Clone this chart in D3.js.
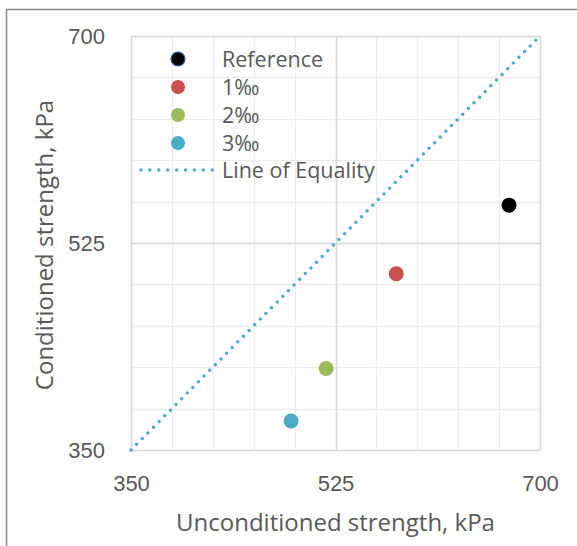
<!DOCTYPE html>
<html>
<head>
<meta charset="utf-8">
<script src="https://cdn.jsdelivr.net/npm/d3@7"></script>
<style>
  html, body { margin: 0; padding: 0; background: #fff; }
  svg { display: block; font-family: "Open Sans", "Noto Sans", sans-serif; }
</style>
</head>
<body>
<svg id="chart" width="577" height="546"></svg>
<script>
// Series: unconditioned vs conditioned strength (kPa)
const seriesNames = ["Reference", "1‰", "2‰", "3‰"];
const seriesColors = ["#000000", "#c9504c", "#9bbb59", "#4bacc6"];
const unconditioned = [673.5, 577, 517, 487];
const conditioned = [557, 499, 419, 374.5];
const equalityLine = [[350, 350], [700, 700]];
const tickValues = [350, 525, 700];
const minorStep = 35;

const svg = d3.select("#chart");
const margin = { left: 131, right: 37, top: 36, bottom: 96 };
const W = 577, H = 546;
const x = d3.scaleLinear().domain([350, 700]).range([margin.left, W - margin.right]);
const y = d3.scaleLinear().domain([350, 700]).range([H - margin.bottom, margin.top]);

// outer chart frame
svg.append("rect")
  .attr("x", 6.5).attr("y", 9.5).attr("width", 600).attr("height", 600)
  .attr("fill", "none").attr("stroke", "#8a8a8a").attr("stroke-width", 1.5);

// gridlines: minor then major
const minorTicks = d3.range(0, 11).map(i => 350 + i * minorStep);
const grid = svg.append("g");
grid.selectAll(".vmin").data(minorTicks).join("line")
  .attr("x1", d => Math.round(x(d)) + 0.5).attr("x2", d => Math.round(x(d)) + 0.5)
  .attr("y1", y(350)).attr("y2", y(700))
  .attr("stroke", "#ececec").attr("stroke-width", 1.3);
grid.selectAll(".hmin").data(minorTicks).join("line")
  .attr("y1", d => Math.round(y(d)) + 0.5).attr("y2", d => Math.round(y(d)) + 0.5)
  .attr("x1", x(350)).attr("x2", x(700))
  .attr("stroke", "#ececec").attr("stroke-width", 1.3);
grid.selectAll(".vmaj").data(tickValues).join("line")
  .attr("x1", d => Math.round(x(d)) + 0.5).attr("x2", d => Math.round(x(d)) + 0.5)
  .attr("y1", y(350)).attr("y2", y(700))
  .attr("stroke", "#d9d9d9").attr("stroke-width", 1.6);
grid.selectAll(".hmaj").data(tickValues).join("line")
  .attr("y1", d => Math.round(y(d)) + 0.5).attr("y2", d => Math.round(y(d)) + 0.5)
  .attr("x1", x(350)).attr("x2", x(700))
  .attr("stroke", "#d9d9d9").attr("stroke-width", 1.6);

// axes (labels only)
const xAxis = svg.append("g")
  .attr("transform", `translate(0,${y(350)})`)
  .call(d3.axisBottom(x).tickValues(tickValues).tickSize(0).tickPadding(0));
xAxis.select(".domain").remove();
xAxis.selectAll("text").attr("dy", null).attr("y", 41)
  .attr("font-size", 22).attr("fill", "#595959");

const yAxis = svg.append("g")
  .attr("transform", `translate(${x(350) - 26},0)`)
  .call(d3.axisLeft(y).tickValues(tickValues).tickSize(0).tickPadding(0));
yAxis.select(".domain").remove();
yAxis.selectAll("text").attr("font-size", 22).attr("fill", "#595959");

// axis titles
svg.append("text")
  .attr("x", (x(350) + x(700)) / 2).attr("y", 531)
  .attr("text-anchor", "middle").attr("font-size", 24).attr("fill", "#595959")
  .text("Unconditioned strength, kPa");
svg.append("text")
  .attr("transform", `translate(53,${(y(350) + y(700)) / 2 + 2}) rotate(-90)`)
  .attr("text-anchor", "middle").attr("font-size", 24).attr("fill", "#595959")
  .text("Conditioned strength, kPa");

// line of equality
svg.append("path")
  .attr("d", d3.line().x(d => x(d[0])).y(d => y(d[1]))(equalityLine))
  .attr("fill", "none").attr("stroke", "#4bacc6").attr("stroke-width", 3.5)
  .attr("stroke-linecap", "round").attr("stroke-dasharray", "0 8");

// data points
svg.append("g").selectAll("circle")
  .data(seriesNames.map((n, i) => ({ n, c: seriesColors[i], u: unconditioned[i], v: conditioned[i] })))
  .join("circle")
  .attr("cx", d => x(d.u)).attr("cy", d => y(d.v)).attr("r", 7.5)
  .attr("fill", d => d.c);

// legend
const legend = svg.append("g");
const rowY = [59, 87, 115, 143];
seriesNames.forEach((n, i) => {
  legend.append("circle").attr("cx", 178).attr("cy", rowY[i]).attr("r", 7)
    .attr("fill", seriesColors[i])
    .attr("stroke", i === 0 ? "#2f5f9e" : "none").attr("stroke-width", 1.2);
  legend.append("text").attr("x", 222).attr("y", rowY[i]).attr("dy", "0.35em")
    .attr("font-size", 21.5).attr("fill", "#595959").text(n);
});
legend.append("line").attr("x1", 141).attr("x2", 213).attr("y1", 170).attr("y2", 170)
  .attr("stroke", "#4bacc6").attr("stroke-width", 3.5)
  .attr("stroke-linecap", "round").attr("stroke-dasharray", "0 8.9");
legend.append("text").attr("x", 222).attr("y", 170).attr("dy", "0.35em")
  .attr("font-size", 21.5).attr("fill", "#595959").text("Line of Equality");
</script>
</body>
</html>
